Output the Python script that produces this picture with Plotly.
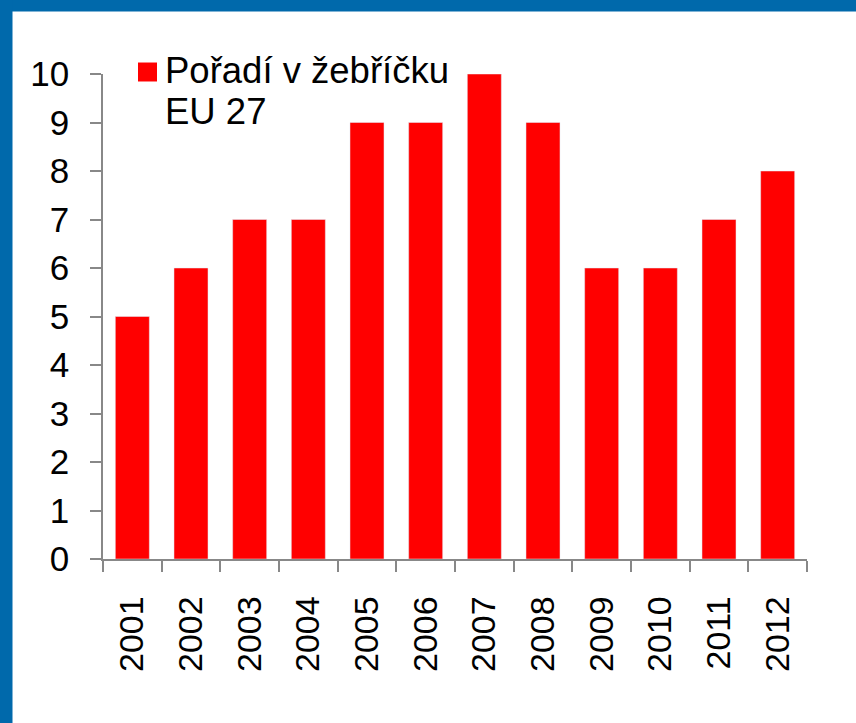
import plotly.graph_objects as go

years = ["2001", "2002", "2003", "2004", "2005", "2006", "2007", "2008", "2009", "2010", "2011", "2012"]
rank = [5, 6, 7, 7, 9, 9, 10, 9, 6, 6, 7, 8]
y_ticks = list(range(0, 11))
legend_lines = ["Pořadí v žebříčku", "EU 27"]

W, H = 856, 723
L, R = 103, 807
T, B = 73.5, 559
pw, ph = R - L, B - T

def px(x):
    return (x - L) / pw

def py(y):
    return (B - y) / ph

FONT = "Liberation Sans, Arial, sans-serif"
BLUE = "#0069AB"
GREY = "#888888"

fig = go.Figure()
fig.add_trace(go.Bar(x=years, y=rank, marker_color="#FF0000", showlegend=False))

annotations = []
for i, line in enumerate(legend_lines):
    annotations.append(dict(
        text=line, xref="paper", yref="paper", x=px(163), y=py(47 + 42 * i),
        xanchor="left", yanchor="top", align="left", showarrow=False,
        font=dict(family=FONT, size=36.5, color="black")))

fig.update_layout(
    width=W, height=H,
    margin=dict(l=L, r=W - R, t=T, b=H - B, pad=0),
    paper_bgcolor="white", plot_bgcolor="white",
    bargap=0.42,
    font=dict(family=FONT, size=34, color="black"),
    xaxis=dict(
        type="category", showline=True, linecolor=GREY, linewidth=1.5,
        ticks="outside", tickson="boundaries", ticklen=11, tickcolor=GREY, tickwidth=1.5,
        tickangle=-90, showgrid=False, ticklabelstandoff=22,
        tickfont=dict(family=FONT, size=34, color="black"),
    ),
    yaxis=dict(
        range=[0, 10], tickvals=y_ticks, showline=True, linecolor=GREY, linewidth=1.5,
        ticks="outside", ticklen=11, tickcolor=GREY, tickwidth=1.5,
        showgrid=False, zeroline=False, ticklabelstandoff=14,
        tickfont=dict(family=FONT, size=35, color="black"),
    ),
    shapes=[
        dict(type="rect", xref="paper", yref="paper", x0=px(0), x1=px(W), y0=py(11), y1=py(-2),
             fillcolor=BLUE, line=dict(width=0), layer="below"),
        dict(type="rect", xref="paper", yref="paper", x0=px(-2), x1=px(12.5), y0=py(H + 2), y1=py(-2),
             fillcolor=BLUE, line=dict(width=0), layer="below"),
        dict(type="rect", xref="paper", yref="paper", x0=px(138), x1=px(157), y0=py(81), y1=py(62),
             fillcolor="#FF0000", line=dict(width=0)),
    ],
    annotations=annotations,
)

fig.write_html(
    "out.html",
    config={"displayModeBar": False},
    post_script="document.body.style.margin='0';document.body.style.overflow='hidden';",
)
